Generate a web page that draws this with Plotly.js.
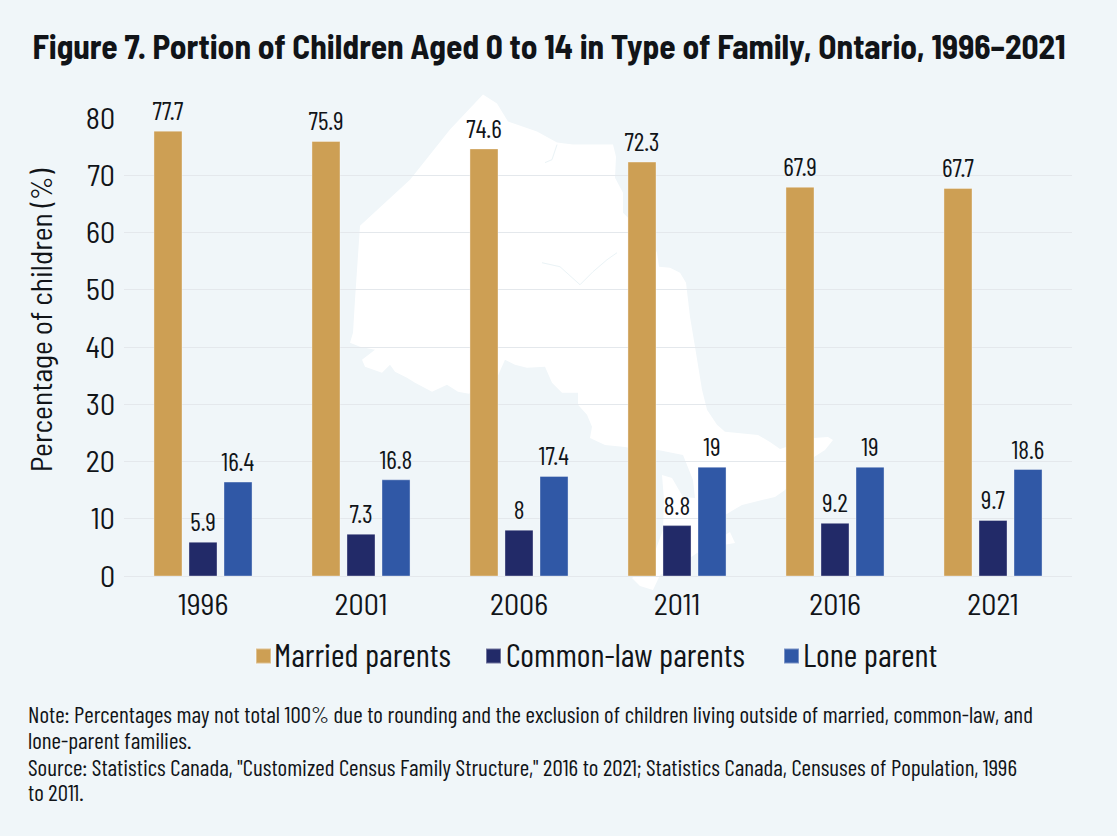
<!DOCTYPE html>
<html><head><meta charset="utf-8">
<script src="https://cdn.plot.ly/plotly-3.0.1.min.js"></script>
<style>html,body{margin:0;padding:0;background:#f0f6f9}</style></head>
<body><div id="chart" style="width:1117px;height:836px"></div>
<script>
const years = ['1996','2001','2006','2011','2016','2021'];
const married = [77.7,75.9,74.6,72.3,67.9,67.7];
const commonLaw = [5.9,7.3,8,8.8,9.2,9.7];
const loneParent = [16.4,16.8,17.4,19,19,18.6];
const yTicks = [0,10,20,30,40,50,60,70,80];
const titleText = 'Figure 7. Portion of Children Aged 0 to 14 in Type of Family, Ontario, 1996–2021';
const noteLines = ['Note: Percentages may not total 100% due to rounding and the exclusion of children living outside of married, common-law, and','lone-parent families.','Source: Statistics Canada, "Customized Census Family Structure," 2016 to 2021; Statistics Canada, Censuses of Population, 1996','to 2011.'];
const noteY = [714,740,767,792];
const SEMI = '"Barlow Semi Condensed",sans-serif';
const COND = '"Barlow Condensed","Barlow Semi Condensed",sans-serif';
const ink = '#111418';
const L=124,R=1072,T=118.4,B=576;
const mapPx = [[483,95],[497,104],[508,122],[537,132],[557,143],[573,145],[613,145],[616,157],[615,178],[623,193],[623,213],[650,240],[657,253],[659,267],[670,268],[680,273],[686,283],[690,317],[695,347],[702,390],[707,410],[717,425],[725,432],[758,435],[770,442],[780,449],[814,438],[828,437],[833,440],[825,450],[814,457],[785,490],[775,497],[762,500],[742,505],[725,515],[716,526],[725,535],[730,532],[735,543],[723,545],[697,553],[680,565],[660,575],[653,590],[640,586],[632,578],[650,565],[663,530],[664,500],[662,475],[672,478],[683,497],[695,498],[693,480],[683,455],[658,450],[640,450],[625,447],[605,445],[590,438],[592,427],[587,415],[578,405],[578,393],[562,393],[552,383],[545,367],[527,368],[515,365],[505,360],[497,378],[469,394],[458,392],[447,385],[432,392],[415,383],[407,378],[395,372],[390,365],[382,373],[365,367],[362,360],[375,350],[360,347],[350,343],[353,333],[355,300],[360,226],[410,180],[450,130]];
const riverPx = [[542,263],[560,267],[580,285],[593,272],[607,260],[617,253]];
const inletPx = [[557,145],[552,160],[545,163]];
const toPaper = p => [(p[0]-L)/(R-L),(B-p[1])/(B-T)];
const pathOf = (pts,close) => 'M'+pts.map(p=>toPaper(p).join(',')).join('L')+(close?'Z':'');
const bar = (name,y,color)=>({type:'bar',name,x:years,y,text:y.map(String),textposition:'outside',cliponaxis:false,constraintext:'none',
  textfont:{family:COND,size:25.5,color:ink},marker:{color,line:{color:'rgba(255,255,255,0.35)',width:1}},hoverinfo:'x+y'});
const data=[bar('Married parents',married,'#cd9f54'),bar('Common-law parents',commonLaw,'#222a68'),bar('Lone parent',loneParent,'#3058a6')];
const layout={width:1117,height:836,paper_bgcolor:'#f0f6f9',plot_bgcolor:'rgba(0,0,0,0)',
  margin:{l:L,r:1117-R,t:T,b:836-B,pad:0},barmode:'group',bargap:0.335,bargroupgap:0.2,showlegend:true,
  font:{family:SEMI,color:ink},
  title:{text:'<b>'+titleText+'</b>',font:{family:SEMI,size:33.4,color:ink},x:0.4915,xanchor:'center',y:0.943,yanchor:'middle'},
  xaxis:{type:'category',tickfont:{family:SEMI,size:30,color:ink},ticks:'',showgrid:false,showline:false,zeroline:false,ticklabelstandoff:8},
  yaxis:{range:[0,80],tickvals:yTicks,tickfont:{family:SEMI,size:30,color:ink},gridcolor:'#e4e8ec',gridwidth:1,zeroline:true,zerolinecolor:'#e4e8ec',zerolinewidth:1,showline:false,ticks:'',ticklabelstandoff:8,
    title:{text:'Percentage of children (%)',font:{family:SEMI,size:29.5,color:ink},standoff:14}},
  legend:{orientation:'h',x:0.5,xanchor:'center',y:-0.17,yanchor:'middle',font:{family:COND,size:33,color:ink},itemsizing:'constant'},
  shapes:[{type:'path',xref:'paper',yref:'paper',path:pathOf(mapPx,true),fillcolor:'#ffffff',line:{width:0},layer:'below'},
    {type:'path',xref:'paper',yref:'paper',path:pathOf(riverPx,false),line:{color:'#eaf3f6',width:1},layer:'below'},
    {type:'path',xref:'paper',yref:'paper',path:pathOf(inletPx,false),line:{color:'#eaf3f6',width:1},layer:'below'}],
  annotations:noteLines.map((t,i)=>({xref:'paper',yref:'paper',x:(26-L)/(R-L),y:(B-noteY[i])/(B-T),xanchor:'left',yanchor:'middle',align:'left',showarrow:false,
    text:t,font:{family:COND,size:23.1,color:ink}}))
};
const swatchX=[256,486,784], labelX=[274,506,803], swatchY=656;
function placeExtras(){
  const yt=document.querySelector('.ytitle');
  if(yt){const r=yt.getBoundingClientRect();
    const dx=40-(r.left+r.right)/2, dy=320-(r.top+r.bottom)/2;
    yt.setAttribute('transform','translate('+dx+','+dy+') '+(yt.getAttribute('transform')||''));}
  document.querySelectorAll('.legend [clip-path]').forEach(e=>e.removeAttribute('clip-path'));
  const lg=document.querySelector('.legend'); if(lg) lg.removeAttribute('clip-path');
  document.querySelectorAll('.legend .traces').forEach((g,i)=>{
    const txt=g.querySelector('text'), sw=g.querySelector('.legendpoints path');
    if(txt){
      const tx0=parseFloat(txt.getAttribute('x'))||0;
      txt.setAttribute('x',tx0+labelX[i]-txt.getBoundingClientRect().left);
    }
    if(sw){
      sw.setAttribute('d','M7.5,7.5H-7.5V-7.5H7.5Z');
      const m=/translate\(([-\d.]+)[, ]*([-\d.]*)/.exec(sw.getAttribute('transform')||'');
      const bx=m?parseFloat(m[1]):0, by=m&&m[2]?parseFloat(m[2]):0;
      const rs=sw.getBoundingClientRect();
      sw.setAttribute('transform','translate('+(bx+swatchX[i]+7.5-(rs.left+rs.right)/2)+','+(by+swatchY-(rs.top+rs.bottom)/2)+')');
    }
  });
}
function liftBarLabels(){
  document.querySelectorAll('.barlayer text.bartext').forEach(t=>{
    t.setAttribute('transform','translate(0,-3) '+(t.getAttribute('transform')||''));
  });
}
Plotly.newPlot('chart',data,layout,{displayModeBar:false}).then(()=>{liftBarLabels();placeExtras();requestAnimationFrame(placeExtras);});
</script></body></html>
